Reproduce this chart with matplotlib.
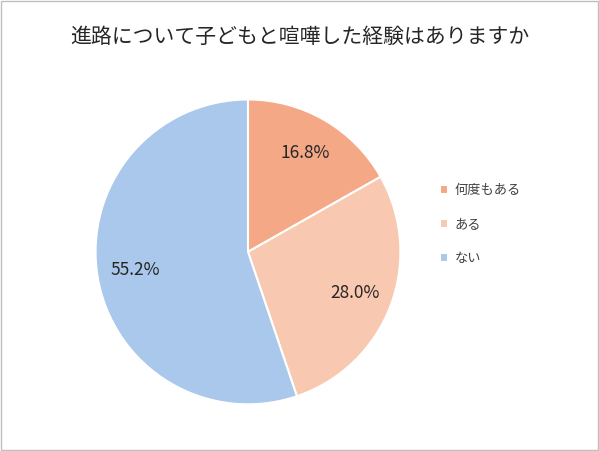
import matplotlib.pyplot as plt
from matplotlib.patches import Rectangle

plt.rcParams['font.family'] = ['Noto Sans CJK JP', 'DejaVu Sans']

labels = ["何度もある", "ある", "ない"]
values = [16.8, 28.0, 55.2]
colors = ["#F4A886", "#F8C9B0", "#A9C8EC"]

fig = plt.figure(figsize=(5.99, 4.51), dpi=100)
fig.patches.append(Rectangle((0.002, 0.002), 0.996, 0.996, transform=fig.transFigure,
                             fill=False, edgecolor="#BFBFBF", linewidth=1))

ax = fig.add_axes([0.157, 0.1, 0.514, 0.683])
wedges, _, autotexts = ax.pie(values, colors=colors, startangle=90, counterclock=False,
                              autopct="%.1f%%", pctdistance=0.75,
                              wedgeprops=dict(edgecolor="white", linewidth=1.5),
                              textprops=dict(fontsize=12.5, color="#262626"))
ax.set_xlim(-1.01, 1.01)
ax.set_ylim(-1.01, 1.01)
ax.set_aspect("equal")

fig.text(0.5, 0.918, "進路について子どもと喧嘩した経験はありますか",
         ha="center", va="center", fontsize=15, color="#262626")

fig.legend(wedges, labels, loc="center left", bbox_to_anchor=(0.715, 0.502),
           frameon=False, fontsize=9.5, handlelength=0.6, handleheight=0.6,
           labelspacing=1.6, handletextpad=0.5, labelcolor="#404040")

fig.savefig("out.png", dpi=100)
